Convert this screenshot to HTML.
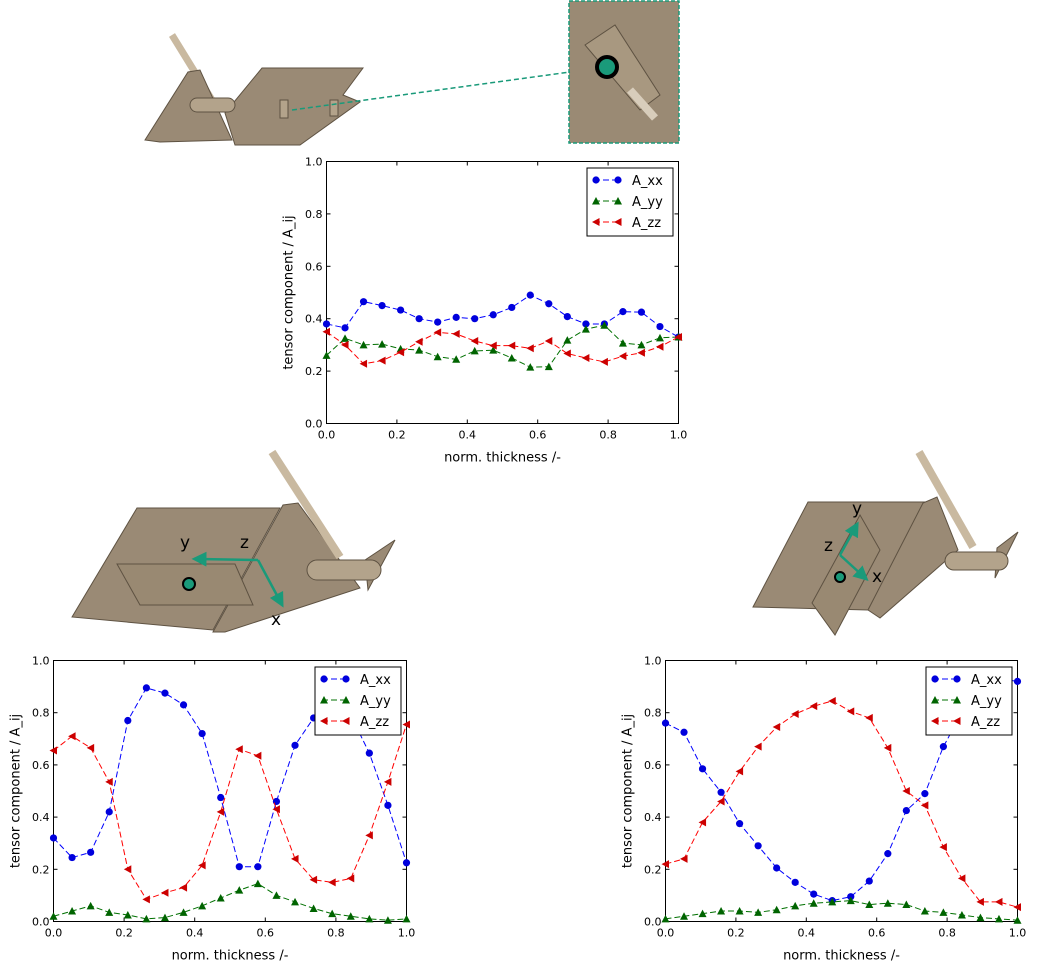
<!DOCTYPE html>
<html><head><meta charset="utf-8"><style>
html,body{margin:0;padding:0;background:#fff;width:1061px;height:969px;overflow:hidden}
svg{display:block;font-family:"DejaVu Sans","Liberation Sans",sans-serif}
</style></head><body>
<svg id="s" width="1061" height="969" viewBox="0 0 1061 969" xmlns="http://www.w3.org/2000/svg">
<defs>
<marker id="ah" markerWidth="6" markerHeight="6" refX="3" refY="3" orient="auto" markerUnits="strokeWidth"><path d="M0,0 L6,3 L0,6 z" fill="#1a9a7a"/></marker>
</defs>
<g stroke="#5e5242" stroke-width="1" fill="#9a8a75">
<!-- top-left object -->
<line x1="172" y1="35" x2="212" y2="100" stroke="#c9b9a0" stroke-width="7"/>
<polygon points="145,140 188,72 200,70 232,140 160,142"/>
<polygon points="225,113 262,68 363,68 343,95 360,102 300,145 235,145"/>
<rect x="190" y="98" width="45" height="14" rx="7" fill="#b3a38b"/>
<rect x="280" y="100" width="8" height="18" fill="#b3a38b"/>
<rect x="330" y="100" width="8" height="16" fill="#b3a38b"/>
<!-- inset -->
<rect x="569" y="1" width="110" height="142" fill="#9a8a74" stroke="#1a9a7a" stroke-dasharray="4,2" stroke-width="1.5"/>
<polygon points="585,45 615,25 660,95 640,110" fill="#a89880"/>
<line x1="630" y1="90" x2="655" y2="118" stroke="#d8cdbb" stroke-width="8"/>
<!-- bottom-left object -->
<polygon points="213,632 283,505 298,503 360,588 225,632"/>
<polygon points="72,617 137,508 280,508 213,630"/>
<line x1="272" y1="452" x2="340" y2="557" stroke="#c9b9a0" stroke-width="8"/>
<polygon points="365,560 395,540 368,590"/>
<rect x="307" y="560" width="74" height="20" rx="10" fill="#b3a38b"/>
<polygon points="117,564 235,564 253,605 140,605" fill="#998972"/>
<!-- bottom-right object -->
<polygon points="753,607 808,502 925,502 868,610"/>
<polygon points="868,610 923,503 937,497 958,550 880,618"/>
<line x1="919" y1="452" x2="973" y2="547" stroke="#c9b9a0" stroke-width="8"/>
<polygon points="997,548 1018,532 995,578"/>
<rect x="945" y="552" width="63" height="18" rx="9" fill="#b3a38b"/>
<polygon points="812,603 860,515 880,550 835,635" fill="#998972"/>
</g>
<line x1="292" y1="110" x2="570" y2="72" stroke="#1a9a7a" stroke-width="1.5" stroke-dasharray="5,3"/>
<circle cx="607" cy="67" r="10" fill="#1a9a7a" stroke="#000" stroke-width="4"/>
<g stroke="#1a9a7a" stroke-width="2.5" fill="none">
<line x1="258" y1="560" x2="199" y2="559" marker-end="url(#ah)"/>
<line x1="258" y1="560" x2="280" y2="601" marker-end="url(#ah)"/>
<line x1="840" y1="555" x2="855" y2="528" marker-end="url(#ah)"/>
<line x1="840" y1="555" x2="863" y2="576" marker-end="url(#ah)"/>
</g>
<circle cx="189" cy="584" r="6" fill="#1a9a7a" stroke="#000" stroke-width="2"/>
<circle cx="840" cy="577" r="5" fill="#1a9a7a" stroke="#000" stroke-width="2"/>
<g font-size="17" fill="#000">
<text x="180" y="548">y</text><text x="240" y="548">z</text><text x="271" y="625">x</text>
<text x="852" y="514">y</text><text x="824" y="551">z</text><text x="872" y="582">x</text>
</g>
</svg>
<script>
var S=document.getElementById('s'),NS='http://www.w3.org/2000/svg';
function el(t,a,p){var e=document.createElementNS(NS,t);for(var k in a)e.setAttribute(k,a[k]);(p||S).appendChild(e);return e;}
function chart(x0,y0,x1,y1,d,lg){
 var W=x1-x0,H=y1-y0;
 function X(v){return x0+v*W} function Y(v){return y1-v*H}
 var g=el('g',{});
 el('rect',{x:x0,y:y0,width:W,height:H,fill:'#fff',stroke:'#000','stroke-width':1},g);
 for(var i=0;i<=5;i++){var v=i/5;
  el('line',{x1:X(v),y1:y1,x2:X(v),y2:y1-4,stroke:'#000'},g);
  el('line',{x1:X(v),y1:y0,x2:X(v),y2:y0+4,stroke:'#000'},g);
  el('line',{x1:x0,y1:Y(v),x2:x0+4,y2:Y(v),stroke:'#000'},g);
  el('line',{x1:x1,y1:Y(v),x2:x1-4,y2:Y(v),stroke:'#000'},g);
  var t=el('text',{x:X(v),y:y1+15,'font-size':11,'text-anchor':'middle'},g);t.textContent=v.toFixed(1);
  t=el('text',{x:x0-4,y:Y(v)+4,'font-size':11,'text-anchor':'end'},g);t.textContent=v.toFixed(1);
 }
 var t=el('text',{x:(x0+x1)/2,y:y1+38,'font-size':13,'text-anchor':'middle'},g);t.textContent='norm. thickness /-';
 t=el('text',{x:0,y:0,'font-size':13,'text-anchor':'middle',transform:'translate('+(x0-34)+','+((y0+y1)/2)+') rotate(-90)'},g);t.textContent='tensor component / A_ij';
 var cols=['#0000ff','#007000','#ff0000'],fills=['#0000dd','#006400','#cc0000'];
 function mk(k,x,y){
  if(k==0) el('circle',{cx:x,cy:y,r:3.6,fill:fills[0]},g);
  else if(k==1) el('polygon',{points:(x-4)+','+(y+3.5)+' '+(x+4)+','+(y+3.5)+' '+x+','+(y-4),fill:fills[1]},g);
  else el('polygon',{points:(x-4)+','+y+' '+(x+3.5)+','+(y-4)+' '+(x+3.5)+','+(y+4),fill:fills[2]},g);
 }
 var cg=el('g',{'clip-path':''},g);
 for(var k=0;k<3;k++){
  var pts=d[k].map(function(v,i){return X(i/19)+','+Y(v)}).join(' ');
  el('polyline',{points:pts,fill:'none',stroke:cols[k],'stroke-width':1,'stroke-dasharray':'6,3'},g);
  d[k].forEach(function(v,i){mk(k,X(i/19),Y(v))});
 }
 var lx=lg[0],ly=lg[1];
 el('rect',{x:lx,y:ly,width:86,height:68,fill:'#fff',stroke:'#000'},g);
 var names=['A_xx','A_yy','A_zz'];
 for(k=0;k<3;k++){var yy=ly+12+k*21;
  el('line',{x1:lx+7,y1:yy,x2:lx+33,y2:yy,stroke:cols[k],'stroke-dasharray':'6,3'},g);
  mk(k,lx+9,yy);mk(k,lx+31,yy);
  t=el('text',{x:lx+45,y:yy+5,'font-size':13},g);t.textContent=names[k];}
}
chart(326.5,161.5,678.5,423.5,[
[.38,.365,.465,.45,.433,.40,.387,.405,.40,.415,.443,.49,.457,.408,.38,.38,.427,.425,.37,.33],
[.26,.325,.30,.303,.285,.28,.255,.245,.277,.28,.25,.215,.217,.318,.36,.375,.307,.30,.327,.33],
[.35,.30,.228,.24,.272,.312,.348,.342,.315,.297,.297,.287,.315,.267,.25,.235,.257,.27,.293,.33]],[587,168]);
chart(53.5,660.5,406.5,921.5,[
[.32,.245,.265,.42,.77,.895,.875,.83,.72,.475,.21,.21,.46,.675,.78,.82,.79,.645,.445,.225],
[.02,.04,.06,.035,.025,.01,.015,.035,.06,.09,.12,.145,.1,.075,.05,.03,.02,.01,.005,.01],
[.655,.71,.665,.535,.2,.085,.11,.13,.215,.42,.66,.635,.43,.24,.16,.15,.165,.33,.535,.755]],[315,667]);
chart(665.5,660.5,1017.5,921.5,[
[.76,.725,.585,.495,.375,.29,.205,.15,.105,.08,.095,.155,.26,.425,.49,.67,.8,.88,.93,.92],
[.01,.02,.03,.04,.04,.035,.045,.06,.07,.075,.08,.065,.07,.065,.04,.035,.025,.015,.01,.005],
[.22,.24,.38,.46,.575,.67,.745,.795,.825,.845,.805,.78,.665,.5,.445,.285,.165,.075,.075,.055]],[926,667]);
</script>
</body></html>
